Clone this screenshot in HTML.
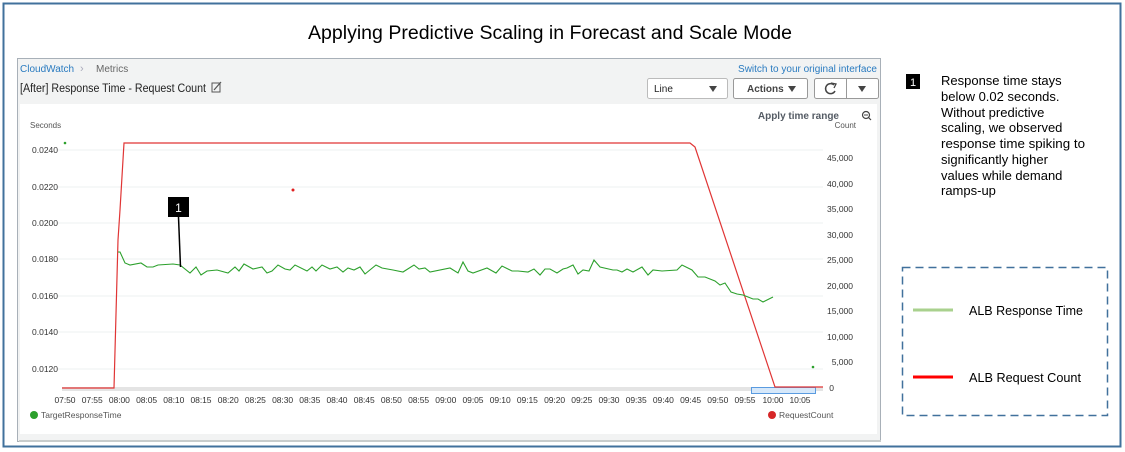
<!DOCTYPE html>
<html><head><meta charset="utf-8"><style>
html,body{margin:0;padding:0;background:#fff;}
svg{display:block;font-family:"Liberation Sans",sans-serif;}
</style></head><body>
<svg width="1125" height="452" viewBox="0 0 1125 452" xmlns="http://www.w3.org/2000/svg">
<rect x="0" y="0" width="1125" height="452" fill="#fff"/>
<rect x="3.5" y="3.5" width="1117" height="443" fill="#fff" stroke="#41719c" stroke-width="2"/>
<text x="550" y="39" font-size="19" text-anchor="middle" fill="#000" textLength="484" lengthAdjust="spacingAndGlyphs">Applying Predictive Scaling in Forecast and Scale Mode</text>

<!-- panel -->
<rect x="17.5" y="58.5" width="863" height="383" fill="#f2f3f3" stroke="#a8b0b8"/>
<rect x="19" y="440" width="862" height="2" fill="#c8cccc"/>
<text x="20" y="72" font-size="10" fill="#2a7bc0">CloudWatch</text>
<text x="80" y="72" font-size="11" fill="#aab">›</text>
<text x="96" y="72" font-size="10" fill="#666">Metrics</text>
<text x="877" y="72" font-size="10" fill="#2a7bc0" text-anchor="end">Switch to your original interface</text>
<text x="20" y="92" font-size="11.5" fill="#222" textLength="186" lengthAdjust="spacingAndGlyphs">[After] Response Time - Request Count</text>
<rect x="212" y="83" width="8" height="9" fill="none" stroke="#555" stroke-width="1"/>
<line x1="214" y1="90" x2="221" y2="82" stroke="#555" stroke-width="1.2"/>

<rect x="647.5" y="78.5" width="80" height="20" fill="#fff" stroke="#bbb" rx="2"/>
<text x="654" y="92" font-size="10" fill="#222">Line</text>
<path d="M709 86 L717 86 L713 92 Z" fill="#444"/>
<rect x="733.5" y="78.5" width="74" height="20" fill="#fff" stroke="#999" rx="2"/>
<text x="747" y="92" font-size="10" font-weight="bold" fill="#444">Actions</text>
<path d="M788 86 L796 86 L792 92 Z" fill="#444"/>
<rect x="814.5" y="78.5" width="64" height="20" fill="#fff" stroke="#999" rx="2"/>
<line x1="846.5" y1="79" x2="846.5" y2="98" stroke="#999"/>
<path d="M834 85 A5 5 0 1 0 835 91" fill="none" stroke="#444" stroke-width="1.5"/>
<path d="M831 83 L836 84 L834 88" fill="none" stroke="#444" stroke-width="1.3"/>
<path d="M858 86 L866 86 L862 92 Z" fill="#444"/>

<rect x="20" y="104" width="857" height="330" fill="#fff"/>
<text x="839" y="119" font-size="10" font-weight="bold" fill="#545b64" text-anchor="end">Apply time range</text>
<circle cx="866" cy="115" r="3.5" fill="none" stroke="#444" stroke-width="1.2"/>
<line x1="864" y1="115" x2="868" y2="115" stroke="#444"/>
<line x1="868.5" y1="117.5" x2="871" y2="120" stroke="#444" stroke-width="1.2"/>
<text x="30" y="128" font-size="8" fill="#555">Seconds</text>
<text x="856" y="128" font-size="8" fill="#555" text-anchor="end">Count</text>

<!-- grid -->
<g stroke="#eef0f0" stroke-width="1">
<line x1="58" y1="150" x2="823" y2="150"/><line x1="58" y1="187" x2="823" y2="187"/>
<line x1="58" y1="223" x2="823" y2="223"/><line x1="58" y1="259" x2="823" y2="259"/>
<line x1="58" y1="296" x2="823" y2="296"/><line x1="58" y1="332" x2="823" y2="332"/>
<line x1="58" y1="369" x2="823" y2="369"/>
</g>
<g font-size="8.5" fill="#333">
<text x="32" y="153">0.0240</text><text x="32" y="190">0.0220</text><text x="32" y="226">0.0200</text>
<text x="32" y="262">0.0180</text><text x="32" y="299">0.0160</text><text x="32" y="335">0.0140</text>
<text x="32" y="372">0.0120</text>
</g>
<g font-size="8.5" fill="#333" text-anchor="end">
<text x="853" y="161">45,000</text><text x="853" y="187">40,000</text><text x="853" y="212">35,000</text>
<text x="853" y="238">30,000</text><text x="853" y="263">25,000</text><text x="853" y="289">20,000</text>
<text x="853" y="314">15,000</text><text x="853" y="340">10,000</text><text x="853" y="365">5,000</text>
<text x="834" y="391">0</text>
</g>
<rect x="62" y="387" width="761" height="4" fill="#e4e4e4"/>
<rect x="751.5" y="387.5" width="64" height="6" fill="#d6e8fa" stroke="#5a9be0"/>
<g font-size="8.5" fill="#333" text-anchor="middle" lengthAdjust="spacingAndGlyphs">
<text x="65" y="403" textLength="21">07:50</text><text x="92.2" y="403" textLength="21">07:55</text><text x="119.4" y="403" textLength="21">08:00</text><text x="146.6" y="403" textLength="21">08:05</text><text x="173.8" y="403" textLength="21">08:10</text><text x="201" y="403" textLength="21">08:15</text><text x="228.2" y="403" textLength="21">08:20</text><text x="255.4" y="403" textLength="21">08:25</text><text x="282.6" y="403" textLength="21">08:30</text><text x="309.8" y="403" textLength="21">08:35</text><text x="337" y="403" textLength="21">08:40</text><text x="364.2" y="403" textLength="21">08:45</text><text x="391.4" y="403" textLength="21">08:50</text><text x="418.6" y="403" textLength="21">08:55</text><text x="445.8" y="403" textLength="21">09:00</text><text x="473" y="403" textLength="21">09:05</text><text x="500.2" y="403" textLength="21">09:10</text><text x="527.4" y="403" textLength="21">09:15</text><text x="554.6" y="403" textLength="21">09:20</text><text x="581.8" y="403" textLength="21">09:25</text><text x="609" y="403" textLength="21">09:30</text><text x="636.2" y="403" textLength="21">09:35</text><text x="663.4" y="403" textLength="21">09:40</text><text x="690.6" y="403" textLength="21">09:45</text><text x="717.8" y="403" textLength="21">09:50</text><text x="745" y="403" textLength="21">09:55</text><text x="773" y="403" textLength="21">10:00</text><text x="800" y="403" textLength="21">10:05</text>
</g>
<circle cx="34" cy="415" r="4" fill="#2ca02c"/>
<text x="41" y="418" font-size="8.5" fill="#555">TargetResponseTime</text>
<circle cx="772" cy="415" r="4" fill="#d62728"/>
<text x="779" y="418" font-size="8.5" fill="#555">RequestCount</text>

<!-- series -->
<polyline fill="none" stroke="#e03535" stroke-width="1.2" points="62,388 114,388 118,240 120,210 124,143 690,143 695,147 775,387 823,387"/>
<polyline fill="none" stroke="#2ca02c" stroke-width="1.1" points="118,252 120,252 125,263 130,265 141,263 147,267 153,267 158,265 173,264 180,265 190,273 196,267 201,275 207,271 217,270 228,273 235,267 239,271 244,264 253,269 262,267 267,273 272,271 278,265 285,269 290,270 295,265 307,271 312,267 316,271 322,265 330,269 337,267 343,272 348,268 354,270 360,267 365,274 376,265 382,268 393,270 403,272 414,265 419,269 425,268 430,272 450,268 458,273 463,262 468,271 473,273 487,268 496,273 502,266 512,271 518,271 528,272 534,269 540,275 545,269 550,269 557,273 563,269 567,268 573,265 578,274 583,270 589,271 594,260 600,267 613,270 617,270 622,272 627,269 633,272 642,267 648,275 653,270 662,271 677,270 682,265 692,270 698,277 705,277 715,281 720,285 725,283 731,292 737,294 743,295 753,299 758,299 763,302 773,297"/>
<circle cx="65" cy="143" r="1.3" fill="#2ca02c"/>
<circle cx="293" cy="190" r="1.5" fill="#e02020"/>
<circle cx="813" cy="367" r="1.3" fill="#2ca02c"/>

<!-- annotation -->
<line x1="178.5" y1="217" x2="180.5" y2="267" stroke="#000" stroke-width="1.5"/>
<rect x="168" y="197" width="21" height="20" fill="#000"/>
<text x="178.5" y="212" font-size="12" fill="#fff" text-anchor="middle">1</text>

<!-- right notes -->
<rect x="906" y="74" width="14" height="15" fill="#000"/>
<text x="913" y="86" font-size="11" fill="#fff" text-anchor="middle">1</text>
<g font-size="13" fill="#000">
<text x="941" y="85">Response time stays</text>
<text x="941" y="101">below 0.02 seconds.</text>
<text x="941" y="117">Without predictive</text>
<text x="941" y="132">scaling, we observed</text>
<text x="941" y="148" textLength="144" lengthAdjust="spacingAndGlyphs">response time spiking to</text>
<text x="941" y="164">significantly higher</text>
<text x="941" y="180">values while demand</text>
<text x="941" y="195">ramps-up</text>
</g>
<rect x="902.5" y="267.5" width="205" height="148" fill="none" stroke="#41719c" stroke-width="1.5" stroke-dasharray="8,5"/>
<line x1="913" y1="310" x2="953" y2="310" stroke="#a9d18e" stroke-width="3"/>
<text x="969" y="315" font-size="13" fill="#000" textLength="114" lengthAdjust="spacingAndGlyphs">ALB Response Time</text>
<line x1="913" y1="377" x2="953" y2="377" stroke="#ff0000" stroke-width="3"/>
<text x="969" y="382" font-size="13" fill="#000" textLength="112" lengthAdjust="spacingAndGlyphs">ALB Request Count</text>
</svg>
</body></html>
